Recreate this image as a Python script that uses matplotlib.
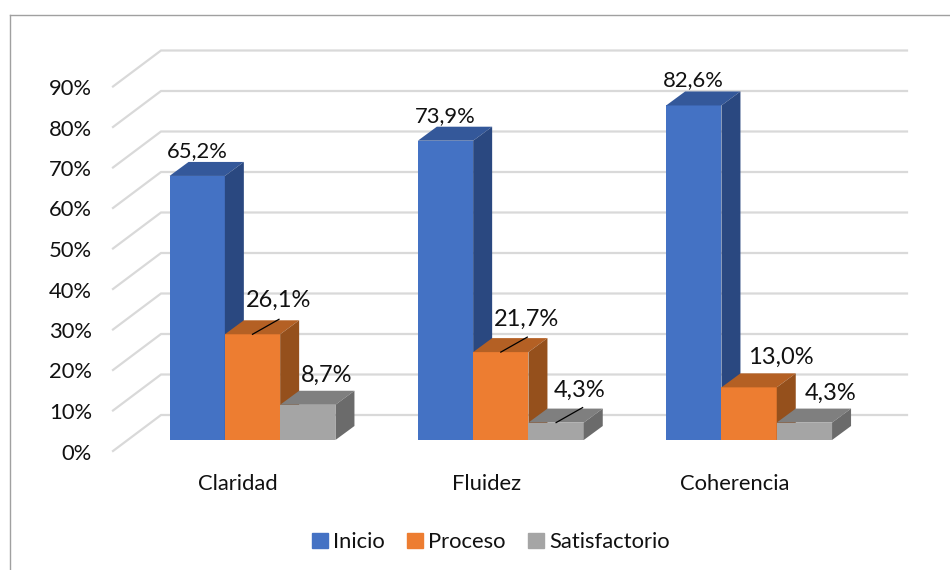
import matplotlib
matplotlib.use('Agg')
import matplotlib.pyplot as plt
from matplotlib.lines import Line2D
from matplotlib.patches import Patch

categories = ['Claridad', 'Fluidez', 'Coherencia']
series_names = ['Inicio', 'Proceso', 'Satisfactorio']
inicio = [65.2, 73.9, 82.6]
proceso = [26.1, 21.7, 13.0]
satisfactorio = [8.7, 4.3, 4.3]
y_ticks = [0, 10, 20, 30, 40, 50, 60, 70, 80, 90]

front_cols = ['#4472C4', '#ED7D31', '#A5A5A5']
top_cols = ['#34589A', '#B46024', '#7F7F7F']
side_cols = ['#2A4880', '#95501C', '#6B6B6B']
grid_col = '#D9D9D9'

plt.rcParams['font.family'] = ['Lato', 'DejaVu Sans']
plt.rcParams['font.size'] = 15.8

W, H = 950, 570
PX_X = 248.3    # pixels per category
PX_Y = 4.05     # pixels per percent
X0 = 252.5      # pixel of first category centre
Y0 = 440        # pixel of bar base


def px_x(p):
    return (p - X0) / PX_X


def px_y(p):
    return (Y0 - p) / PX_Y


fig = plt.figure(figsize=(W / 100, H / 100), dpi=100)
ax = fig.add_axes([0, 0, 1, 1])
ax.set_xlim(px_x(0), px_x(W))
ax.set_ylim(px_y(H), px_y(0))
ax.axis('off')

# walls
fx0, bx0, bx1 = px_x(113), px_x(161), px_x(907)
floor_front = px_y(451)
floor_back = px_y(415)
for t in y_ticks:
    ax.plot([fx0, bx0, bx1], [t + floor_front, t + floor_back, t + floor_back],
            color=grid_col, lw=1.6, solid_joinstyle='miter', zorder=1)
    ax.annotate(f'{t}%', xy=(px_x(92), t + floor_front), xytext=(0, -2.5),
                textcoords='offset pixels', ha='right', va='center',
                color='#111111', zorder=20)

# bars
bar_w = 55.3 / PX_X
dep_x = 19 / PX_X
dep_y = 14 / PX_Y
values = [inicio, proceso, satisfactorio]
offsets = [-bar_w, 0, bar_w]

for g in range(len(categories)):
    for s in range(3):
        x = g + offsets[s]
        v = values[s][g]
        z = 5 + s
        ax.bar(x, v, width=bar_w, color=front_cols[s], zorder=z)
        l, r = x - bar_w / 2, x + bar_w / 2
        ax.fill([l, r, r + dep_x, l + dep_x], [v, v, v + dep_y, v + dep_y],
                color=top_cols[s], lw=0, zorder=z)
        ax.fill([r, r + dep_x, r + dep_x, r], [0, dep_y, v + dep_y, v],
                color=side_cols[s], lw=0, zorder=z)

# data labels, offsets in pixels from the top centre of each front face
label_off = [
    [(0, 25), (0, 25), (0, 25)],
    [(26.5, 34), (26, 33), (32, 30)],
    [(18.5, 29), (24, 32), (26, 29.5)],
]
label_size = [15.8, 17, 17]
leaders = [(1, 0), (1, 1), (2, 1)]

for s in range(3):
    for g in range(3):
        x = g + offsets[s]
        v = values[s][g]
        ax.annotate(f'{v:.1f}'.replace('.', ',') + '%', xy=(x, v),
                    xytext=label_off[s][g], textcoords='offset pixels',
                    ha='center', va='center', color='#111111', zorder=20,
                    fontsize=label_size[s])

for s, g in leaders:
    x = g + offsets[s]
    v = values[s][g]
    ax.plot([x, x + 26.5 / PX_X], [v, v + 15 / PX_Y], color='black', lw=0.9, zorder=15)

for g, name in enumerate(categories):
    ax.text(g - 14.5 / PX_X, px_y(484.5), name, ha='center', va='center',
            color='#111111', zorder=20)

handles = [Patch(color=c, label=n) for c, n in zip(front_cols, series_names)]
ax.legend(handles=handles, ncol=3, frameon=False, loc='center',
          bbox_to_anchor=(491 / W, 1 - 542 / H), handlelength=0.7, handleheight=0.7,
          handletextpad=0.25, columnspacing=1.03, labelcolor='#111111')

# outer frame of the picture
frame = '#A0A0A0'
fig.add_artist(Line2D([10 / W, 10 / W], [0, 1 - 15 / H], color=frame, lw=1))
fig.add_artist(Line2D([10 / W, 1], [1 - 15 / H, 1 - 15 / H], color=frame, lw=1))

fig.savefig('out.png', dpi=100)
